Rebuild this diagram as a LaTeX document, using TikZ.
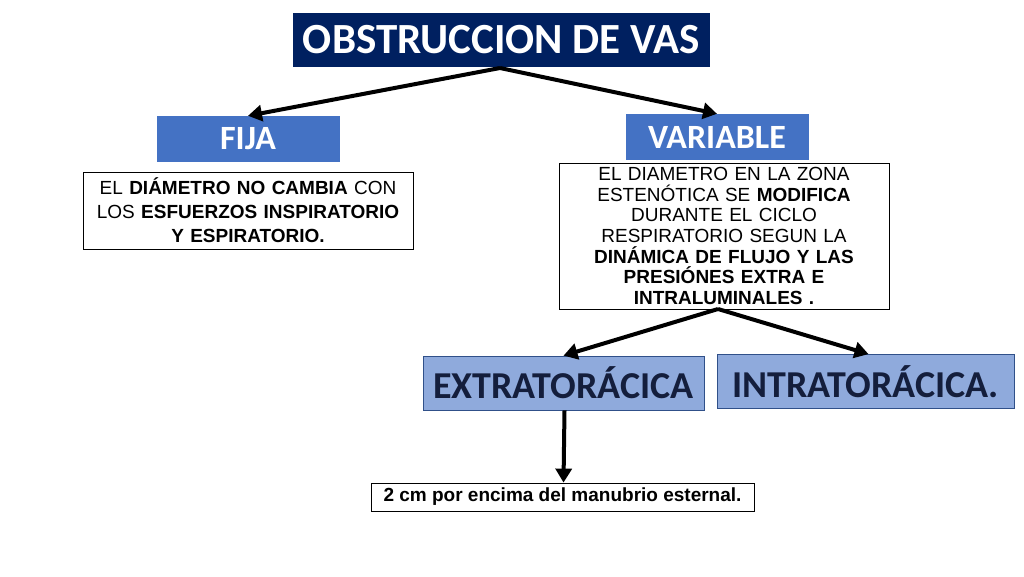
\documentclass[tikz,border=0pt]{standalone}
\usepackage{fontspec}
\setmainfont{Liberation Sans}
\newfontfamily\calib{Carlito}
\usetikzlibrary{positioning}
\usetikzlibrary{arrows.meta}
\definecolor{navy}{RGB}{0, 32, 96}
\definecolor{mblue}{RGB}{68, 114, 196}
\definecolor{lblue}{RGB}{143, 170, 220}
\definecolor{dtext}{RGB}{20, 30, 60}

\begin{document}
\begin{tikzpicture}[x=1pt, y=1pt]
[every node/.style={inner sep=0pt}]
\tikzset{
  titlebox/.style={fill=navy, text=white, font=\calib\bfseries\fontsize{43}{46}\selectfont, minimum width=417pt, minimum height=54pt},
  kindbox/.style={fill=mblue, text=white, font=\calib\bfseries\fontsize{34}{36}\selectfont, minimum width=183pt, minimum height=46pt},
  textbox/.style={draw=black, line width=0.8pt, fill=white, align=center, inner sep=1pt},
  placebox/.style={fill=lblue, draw=mblue!70!black, line width=0.8pt, text=dtext, font=\calib\bfseries\fontsize{38}{40}\selectfont, minimum height=54pt},
  link/.style={line width=4pt, -{Triangle[length=14pt, width=16pt]}}
}
\useasboundingbox (0,0) rectangle (1024,-576);
\node (title) [titlebox] at (501.5pt, -40pt) {OBSTRUCCION DE VAS};
\node (fija) [kindbox] at (248pt, -139pt) {FIJA};
\node (variable) [kindbox] at (717pt, -137pt) {VARIABLE};
\node (fijatext) [textbox, font=\fontsize{19}{24}\selectfont, minimum width=330pt, minimum height=77pt, text width=326pt] at (248pt, -210.5pt)
  {EL \textbf{DIÁMETRO NO CAMBIA} CON\\LOS \textbf{ESFUERZOS INSPIRATORIO}\\\textbf{Y ESPIRATORIO.}};
\node (vartext) [textbox, font=\fontsize{19}{20.6}\selectfont, minimum width=330pt, minimum height=146pt, text width=326pt] at (724pt, -236pt)
  {EL DIAMETRO EN LA ZONA\\ESTENÓTICA SE \textbf{MODIFICA}\\DURANTE EL CICLO\\RESPIRATORIO SEGUN LA\\\textbf{DINÁMICA DE FLUJO Y LAS}\\\textbf{PRESIÓNES EXTRA  E}\\\textbf{INTRALUMINALES .}};
\node (extra) [placebox, minimum width=281pt] at (563.5pt, -383pt) {EXTRATORÁCICA};
\node (intra) [placebox, minimum width=297pt] at (865.5pt, -381.5pt) {INTRATORÁCICA.};
\node (manubrio) [draw=black, line width=0.8pt, fill=white, font=\bfseries\fontsize{19}{21}\selectfont, minimum width=383pt, minimum height=28pt] at (562.5pt, -497pt) {2 cm por encima del manubrio esternal.};
\coordinate (tsplit) at (500pt, -68pt);
\coordinate (vsplit) at (718pt, -309pt);
\draw [link] (tsplit) to (fija.north);
\draw [link] (tsplit) to (variable.north);
\draw [link] (vsplit) to (extra.north);
\draw [link] (vsplit) to ([xshift=3pt]intra.north);
\draw [link] ([xshift=1pt]extra.south) to ([xshift=1pt]manubrio.north);
\end{tikzpicture}
\end{document}
